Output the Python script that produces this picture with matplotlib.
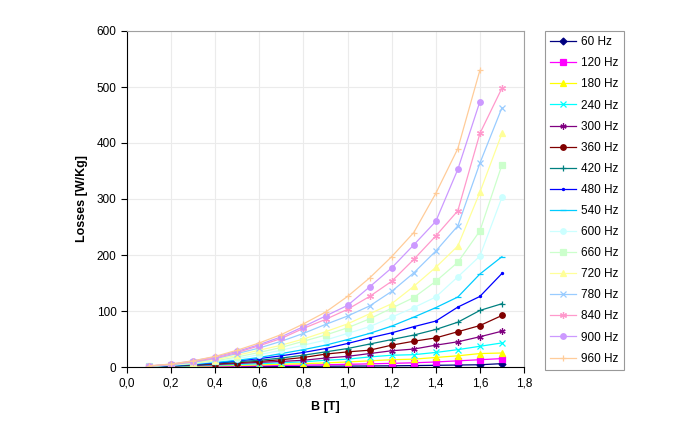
import matplotlib
matplotlib.use('Agg')
import matplotlib.pyplot as plt
from matplotlib.ticker import FuncFormatter

plt.rcParams['font.family'] = ['Liberation Sans', 'DejaVu Sans']

# Flux density points
B = [0.1, 0.2, 0.3, 0.4, 0.5, 0.6, 0.7, 0.8, 0.9, 1.0, 1.1, 1.2, 1.3, 1.4, 1.5, 1.6, 1.7]

labels = ['60 Hz', '120 Hz', '180 Hz', '240 Hz', '300 Hz', '360 Hz', '420 Hz', '480 Hz',
          '540 Hz', '600 Hz', '660 Hz', '720 Hz', '780 Hz', '840 Hz', '900 Hz', '960 Hz']

# Losses [W/Kg] per frequency
loss_60 = [0.1, 0.2, 0.3, 0.5, 0.6, 0.8, 1.0, 1.2, 1.4, 1.6, 1.8, 2.1, 2.5, 3, 3.5, 4, 6]
loss_120 = [0.2, 0.5, 0.8, 1.2, 1.6, 2.1, 2.7, 3.3, 4, 4.8, 5.6, 6.5, 7.5, 9, 11, 13, 15]
loss_180 = [0.3, 0.8, 1.4, 2.1, 2.9, 3.8, 4.8, 6, 7.3, 9, 11, 13, 14, 17, 20, 24, 25]
loss_240 = [0.5, 1.2, 2.1, 3.2, 4.5, 5.9, 7.5, 9.3, 12, 14, 18, 21, 22, 26, 31, 37, 43]
loss_300 = [0.6, 1.6, 2.9, 4.4, 6.2, 8.2, 10, 12, 16, 19, 24, 29, 32, 39, 45, 54, 64]
loss_360 = [0.8, 2.0, 3.7, 5.6, 7.8, 10, 13, 17, 23, 27, 30, 39, 46, 52, 63, 74, 92]
loss_420 = [0.9, 2.4, 4.4, 6.8, 9.5, 12, 16, 21, 27, 33, 41, 49, 57, 67, 80, 101, 113]
loss_480 = [1.0, 2.8, 5.1, 7.5, 11, 15, 20, 26, 33, 42, 52, 61, 72, 82, 107, 126, 167]
loss_540 = [1.1, 3.0, 5.5, 8.5, 12, 17, 24, 31, 39, 49, 60, 73, 89, 106, 125, 166, 197]
loss_600 = [1.2, 3.3, 6.2, 10, 15, 22, 30, 39, 48, 60, 72, 89, 106, 125, 161, 198, 303]
loss_660 = [1.3, 3.6, 6.8, 11, 18, 26, 35, 46, 57, 70, 86, 105, 124, 153, 187, 243, 361]
loss_720 = [1.4, 3.9, 7.5, 13, 21, 30, 39, 50, 63, 77, 95, 113, 144, 178, 216, 312, 417]
loss_780 = [1.6, 4.3, 8.5, 15, 24, 34, 46, 60, 76, 91, 109, 135, 168, 207, 252, 364, 463]
loss_840 = [1.7, 4.6, 9.5, 16, 26, 38, 51, 69, 85, 103, 126, 153, 192, 234, 279, 417, 498]
loss_900 = [1.8, 5.0, 11, 18, 28, 40, 54, 72, 91, 110, 143, 177, 218, 260, 353, 474]
loss_960 = [2.0, 5.3, 11, 19, 30, 43, 58, 77, 98, 126, 159, 197, 240, 310, 390, 530]

series = [loss_60, loss_120, loss_180, loss_240, loss_300, loss_360, loss_420, loss_480,
          loss_540, loss_600, loss_660, loss_720, loss_780, loss_840, loss_900, loss_960]

colors = ['#000080', '#FF00FF', '#FFFF00', '#00FFFF', '#800080', '#800000', '#008080', '#0000FF',
          '#00CCFF', '#CCFFFF', '#CCFFCC', '#FFFF99', '#99CCFF', '#FF99CC', '#CC99FF', '#FFCC99']
asterisk = (6, 2, 0)
markers = ['D', 's', '^', 'x', asterisk, 'o', '+', '.',
           '_', 'o', 's', '^', 'x', asterisk, 'o', '+']
sizes = [3.5, 4, 4, 4, 4.5, 4, 5, 3, 4, 4, 4, 4, 5, 5, 4, 5]

fig = plt.figure(figsize=(6.83, 4.41), dpi=100)
ax = fig.add_axes([127 / 683, 1 - 367 / 441, 397 / 683, 336 / 441])

for y, c, m, s, lab in zip(series, colors, markers, sizes, labels):
    ax.plot(B[:len(y)], y, color=c, marker=m, markersize=s, linewidth=0.9,
            markeredgewidth=0.9, label=lab)

ax.set_xlim(0, 1.8)
ax.set_ylim(0, 600)
ax.set_xticks([0, 0.2, 0.4, 0.6, 0.8, 1.0, 1.2, 1.4, 1.6, 1.8])
ax.set_yticks([0, 100, 200, 300, 400, 500, 600])
ax.xaxis.set_major_formatter(FuncFormatter(lambda v, p: f'{v:.1f}'.replace('.', ',')))
ax.grid(True, color='#ebebeb', linewidth=0.8)
ax.set_axisbelow(True)
ax.tick_params(labelsize=8.5, direction='out', length=4, width=0.8, color='black')
ax.tick_params(top=False, right=False)

for side in ['top', 'right']:
    ax.spines[side].set_color('#a0a0a0')
    ax.spines[side].set_linewidth(0.8)
for side in ['left', 'bottom']:
    ax.spines[side].set_color('black')
    ax.spines[side].set_linewidth(0.8)

ax.set_xlabel('B [T]', fontsize=9, fontweight='bold', labelpad=8)
ax.set_ylabel('Losses [W/Kg]', fontsize=9, fontweight='bold', labelpad=6)

leg = fig.legend(loc='upper left', bbox_to_anchor=(545 / 683, 1 - 31 / 441),
                 borderaxespad=0, fontsize=8.5, frameon=True, fancybox=False,
                 edgecolor='#808080', handlelength=2.2, borderpad=0.45,
                 labelspacing=0.77, handletextpad=0.4)
leg.get_frame().set_linewidth(0.8)

fig.savefig('out.png', dpi=100)
